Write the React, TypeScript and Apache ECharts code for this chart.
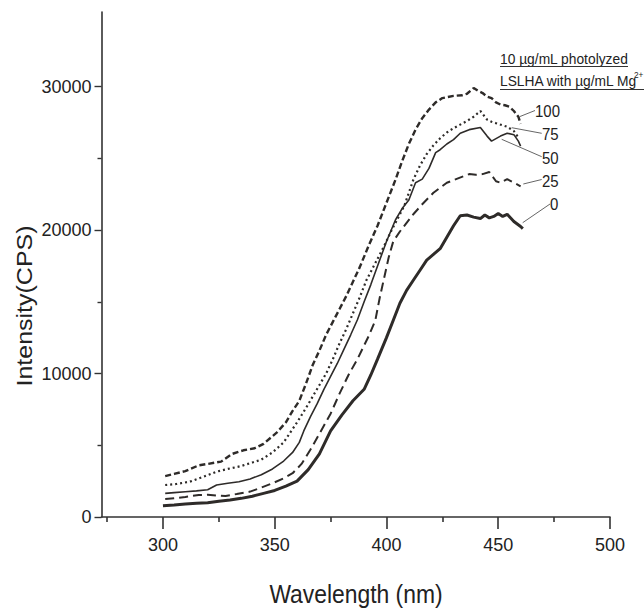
import React, { useEffect, useRef } from "react";
import * as echarts from "echarts";

// Emission spectra: wavelength (nm) vs intensity (CPS) for each Mg2+ concentration (µg/mL)
const wl0 = [300, 305, 310, 315, 320, 325, 330, 335, 340, 345, 350, 355, 360, 365, 370, 375, 380, 385, 390, 393, 396, 400, 403, 406, 409, 412, 415, 418, 421, 424, 427, 430, 433, 436, 439, 442, 444, 446, 448, 450, 452, 454, 457, 460, 461];
const int0 = [780, 830, 900, 950, 1000, 1100, 1180, 1300, 1450, 1650, 1850, 2150, 2500, 3300, 4400, 6000, 7100, 8100, 8900, 9900, 11000, 12500, 13700, 14900, 15800, 16500, 17200, 17900, 18300, 18700, 19500, 20300, 21000, 21050, 20900, 20800, 21050, 20850, 20950, 21150, 20950, 21100, 20600, 20250, 20100];

const wl25 = [301, 305, 310, 316, 320, 324, 328, 333, 339, 344, 349, 354, 358, 362, 366, 370, 375, 379, 383, 387, 392, 395, 397, 399, 401, 403, 406, 409, 412, 416, 421, 427, 432, 437, 440, 443, 446, 449, 451, 454, 457, 460];
const int25 = [1250, 1300, 1400, 1530, 1550, 1500, 1470, 1600, 1770, 2050, 2350, 2700, 3050, 3700, 4700, 5800, 7200, 8600, 9900, 11000, 12600, 13700, 15300, 16700, 18100, 19200, 19900, 20500, 21100, 21800, 22600, 23300, 23600, 23900, 23850, 23900, 24050, 23400, 23300, 23550, 23300, 23050];

const wl50 = [301, 305, 310, 315, 320, 324, 329, 334, 339, 344, 349, 354, 358, 361, 363, 366, 369, 372, 375, 378, 381, 384, 387, 390, 393, 396, 400, 404, 407, 410, 413, 416, 419, 422, 424, 427, 430, 433, 437, 442, 445, 447, 451, 454, 457, 459, 460];
const int50 = [1650, 1700, 1760, 1820, 1900, 2230, 2350, 2460, 2650, 2950, 3350, 3900, 4500, 5200, 6000, 7000, 7900, 8900, 9800, 10700, 11700, 12700, 13750, 15000, 16200, 17500, 19200, 20700, 21500, 22100, 23300, 23550, 24300, 25400, 25600, 26000, 26300, 26750, 27000, 27150, 26550, 26200, 26550, 26750, 26650, 26200, 25850];

const wl75 = [301, 306, 312, 318, 324, 329, 335, 340, 344, 349, 354, 357, 360, 364, 367, 370, 373, 376, 379, 382, 385, 388, 391, 395, 399, 402, 405, 408, 412, 415, 418, 421, 424, 427, 430, 433, 436, 439, 442, 445, 447, 449, 452, 454, 457, 459];
const int75 = [2230, 2300, 2460, 2800, 3160, 3350, 3550, 3800, 4000, 4500, 5200, 5900, 6600, 7600, 8400, 9200, 10000, 11000, 12100, 13100, 14200, 15300, 16500, 17700, 18900, 19900, 20800, 21700, 23500, 24500, 25300, 25900, 26400, 26800, 27100, 27350, 27600, 27900, 28300, 27700, 27550, 27450, 27300, 27200, 26900, 26450];

const wl100 = [301, 305, 310, 316, 320, 326, 331, 336, 341, 345, 351, 355, 358, 361, 364, 367, 370, 373, 376, 379, 382, 385, 388, 392, 396, 400, 404, 407, 410, 413, 416, 419, 422, 425, 430, 434, 436, 439, 441, 443, 445, 447, 449, 451, 453, 455, 457, 459, 460];
const int100 = [2850, 3000, 3200, 3600, 3700, 3860, 4400, 4650, 4790, 5100, 5900, 6600, 7400, 8100, 9300, 10600, 11600, 12700, 13600, 14500, 15400, 16400, 17400, 18900, 20300, 21900, 23500, 24800, 26000, 27000, 27800, 28400, 28900, 29200, 29350, 29400, 29500, 29900, 29700, 29550, 29300, 29200, 28900, 28750, 28700, 28600, 28300, 27900, 27400];

const xTicks = [300, 350, 400, 450, 500];
const xMinorTicks = [275, 325, 375, 425, 475];
const yTicks = [0, 10000, 20000, 30000];
const yMinorTicks = [5000, 15000, 25000];
const concLabels = ["0", "25", "50", "75", "100"];

const FONT = "'Liberation Sans', Arial, sans-serif";
const INK = "#2e2b29";

function pairs(xs: number[], ys: number[]) {
  return xs.map((x, i) => [x, ys[i]]);
}

export default function App() {
  const ref = useRef<HTMLDivElement>(null);
  useEffect(() => {
    const chart = echarts.init(ref.current!, null, { renderer: "svg" });
    const grid = { left: 101.5, right: 34, top: 12, bottom: 94, containLabel: false };
    const baseX = { type: "value", min: 272.5, max: 500, splitLine: { show: false } };
    const baseY = { type: "value", min: 0, max: 35200, splitLine: { show: false } };
    const lineStyles: any[] = [
      { width: 3, type: "solid" },
      { width: 2, type: [9, 5] },
      { width: 1.6, type: "solid" },
      { width: 2.2, type: [2, 3] },
      { width: 2.4, type: [6, 3] },
    ];
    const datasets = [
      pairs(wl0, int0),
      pairs(wl25, int25),
      pairs(wl50, int50),
      pairs(wl75, int75),
      pairs(wl100, int100),
    ];
    const labelPos: [number, number][] = [
      [550, 204],
      [542, 181],
      [542, 158],
      [542, 134],
      [535, 111],
    ];
    const leaders: number[][] = [
      [522.7, 222.7, 550, 204],
      [523.3, 184, 541.7, 179.5],
      [501.7, 139.3, 541.7, 156.7],
      [511.7, 127.7, 541.7, 133.3],
      [520, 116.5, 535, 110.5],
    ];
    const narrow = 0.88;
    const graphic: any[] = [];
    concLabels.forEach((t, i) => {
      graphic.push({
        type: "line",
        shape: { x1: leaders[i][0], y1: leaders[i][1], x2: leaders[i][2], y2: leaders[i][3] },
        style: { stroke: "#555", lineWidth: 0.9 },
      });
      graphic.push({
        type: "text",
        x: labelPos[i][0],
        y: labelPos[i][1],
        scaleX: narrow,
        style: { text: t, fill: "#222", font: `17px ${FONT}`, textAlign: "left", textVerticalAlign: "middle" },
      });
    });
    graphic.push(
      { type: "text", x: 500, y: 59, scaleX: 0.92, style: { text: "10 µg/mL photolyzed", fill: "#222", font: `15px ${FONT}`, textAlign: "left", textVerticalAlign: "middle" } },
      { type: "line", shape: { x1: 500, y1: 66.5, x2: 628, y2: 66.5 }, style: { stroke: "#333", lineWidth: 1 } },
      { type: "text", x: 500, y: 81, scaleX: 0.92, style: { text: "LSLHA with µg/mL Mg", fill: "#222", font: `15px ${FONT}`, textAlign: "left", textVerticalAlign: "middle" } },
      { type: "text", x: 634, y: 75, scaleX: 0.92, style: { text: "2+", fill: "#222", font: `9px ${FONT}`, textAlign: "left", textVerticalAlign: "middle" } },
      { type: "line", shape: { x1: 500, y1: 89.5, x2: 644, y2: 89.5 }, style: { stroke: "#333", lineWidth: 1 } },
      { type: "text", x: 356, y: 594, scaleX: narrow, style: { text: "Wavelength (nm)", fill: "#222", font: `26px ${FONT}`, textAlign: "center", textVerticalAlign: "middle" } },
      { type: "text", x: 25, y: 306, rotation: Math.PI / 2, scaleY: narrow, style: { text: "Intensity(CPS)", fill: "#222", font: `25px ${FONT}`, textAlign: "center", textVerticalAlign: "middle" } }
    );

    const fmt = (v: number) => String(v);
    chart.setOption({
      animation: false,
      backgroundColor: "#ffffff",
      grid,
      xAxis: [
        {
          ...baseX,
          axisLine: { show: true, onZero: false, lineStyle: { color: "#333", width: 1.6 } },
          axisTick: { show: true, customValues: xTicks, length: 12, lineStyle: { color: "#333", width: 1.6 } },
          axisLabel: { show: true, customValues: xTicks, formatter: fmt, margin: 19, color: "#222", fontSize: 18, fontFamily: FONT },
        },
        {
          ...baseX,
          position: "bottom",
          axisLine: { show: false, onZero: false },
          axisTick: { show: true, customValues: xMinorTicks, length: 5, lineStyle: { color: "#333", width: 1.6 } },
          axisLabel: { show: false },
        },
      ],
      yAxis: [
        {
          ...baseY,
          axisLine: { show: true, onZero: false, lineStyle: { color: "#333", width: 1.6 } },
          axisTick: { show: true, customValues: yTicks, length: 7, lineStyle: { color: "#333", width: 1.4 } },
          axisLabel: { show: true, customValues: yTicks, formatter: fmt, margin: 10, color: "#222", fontSize: 18, fontFamily: FONT },
        },
        {
          ...baseY,
          position: "left",
          axisLine: { show: false, onZero: false },
          axisTick: { show: true, customValues: yMinorTicks, length: 4, lineStyle: { color: "#333", width: 1.4 } },
          axisLabel: { show: false },
        },
      ],
      series: datasets.map((d, i) => ({
        name: concLabels[i],
        type: "line",
        data: d,
        xAxisIndex: 0,
        yAxisIndex: 0,
        showSymbol: false,
        symbol: "none",
        smooth: false,
        lineStyle: { color: INK, ...lineStyles[i] },
        emphasis: { disabled: true },
      })),
      graphic,
    });
    return () => chart.dispose();
  }, []);
  return <div ref={ref} style={{ position: "fixed", left: 0, top: 0, width: 644, height: 611 }} />;
}
